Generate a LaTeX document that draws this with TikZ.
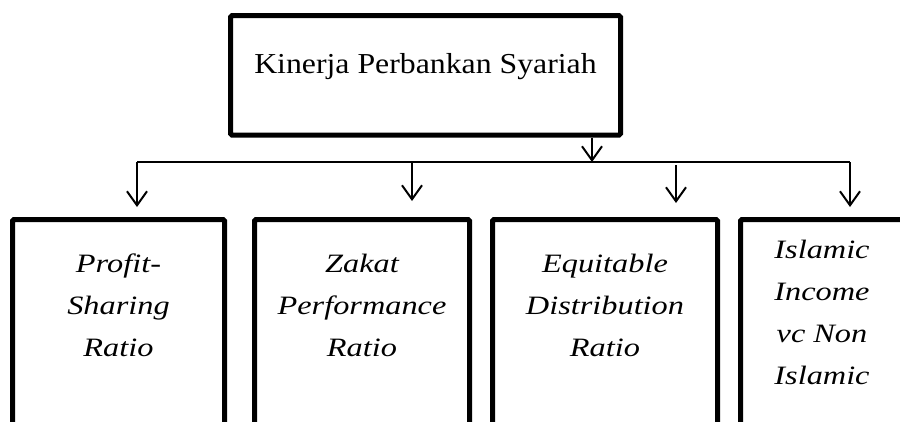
\documentclass[tikz,border=0pt]{standalone}
\usepackage{fontspec}
\usepackage{tikz}
\usetikzlibrary{arrows.meta}
\setmainfont{Liberation Serif}
\newfontfamily\headfont[FakeStretch=1.1]{Liberation Serif}
\newfontfamily\ratiofont[FakeStretch=1.22]{Liberation Serif}
\newcommand{\ratiotext}[2]{\parbox[t]{#1}{\centering #2}}

\begin{document}
\begin{tikzpicture}[x=1pt,y=-1pt,
  box/.style={draw,line width=5pt,inner sep=0pt,rounded corners=1.5pt},
  ratiobox/.style={box,anchor=north,text depth=220pt,font=\ratiofont\itshape\fontsize{26.5}{42}\selectfont},
  link/.style={line width=2pt},
  arr/.style={link,-{Straight Barb[length=14pt,width=20pt]}}]
  \clip (0,0) rectangle (900,421);
  \node[box,minimum width=390pt,minimum height=119.5pt,text height=20pt,text depth=24.6pt,
    font=\headfont\fontsize{28.9}{34}\selectfont] (kinerja) at (425.5,75.3) {Kinerja Perbankan Syariah};
  \node[ratiobox,minimum width=212pt,text height=52.5pt] (psr) at (118.5,217) {\ratiotext{205pt}{Profit-\\Sharing\\Ratio}};
  \node[ratiobox,minimum width=215pt,text height=52.5pt] (zpr) at (362,217) {\ratiotext{205pt}{Zakat\\Performance\\Ratio}};
  \node[ratiobox,minimum width=225pt,text height=52.5pt] (edr) at (605,217) {\ratiotext{215pt}{Equitable\\Distribution\\Ratio}};
  \node[ratiobox,minimum width=163pt,text height=38.5pt] (iinc) at (822,217) {\ratiotext{155pt}{Islamic\\Income\\vc Non\\Islamic}};
  \coordinate (busL) at (137,162);
  \coordinate (busR) at (850,162);
  \coordinate (busIn) at (592,162);
  \coordinate (busZ) at (412,162);
  \coordinate (busE) at (676,165);
  \draw[link] (busL) -- (busR);
  \draw[arr] (kinerja.south -| busIn) -- (busIn);
  \draw[arr,shorten >=10pt] (busL) -- (busL |- psr.north);
  \draw[arr,shorten >=16pt] (busZ) -- (busZ |- zpr.north);
  \draw[arr,shorten >=14pt] (busE) -- (busE |- edr.north);
  \draw[arr,shorten >=10pt] (busR) -- (busR |- iinc.north);
\end{tikzpicture}
\end{document}
